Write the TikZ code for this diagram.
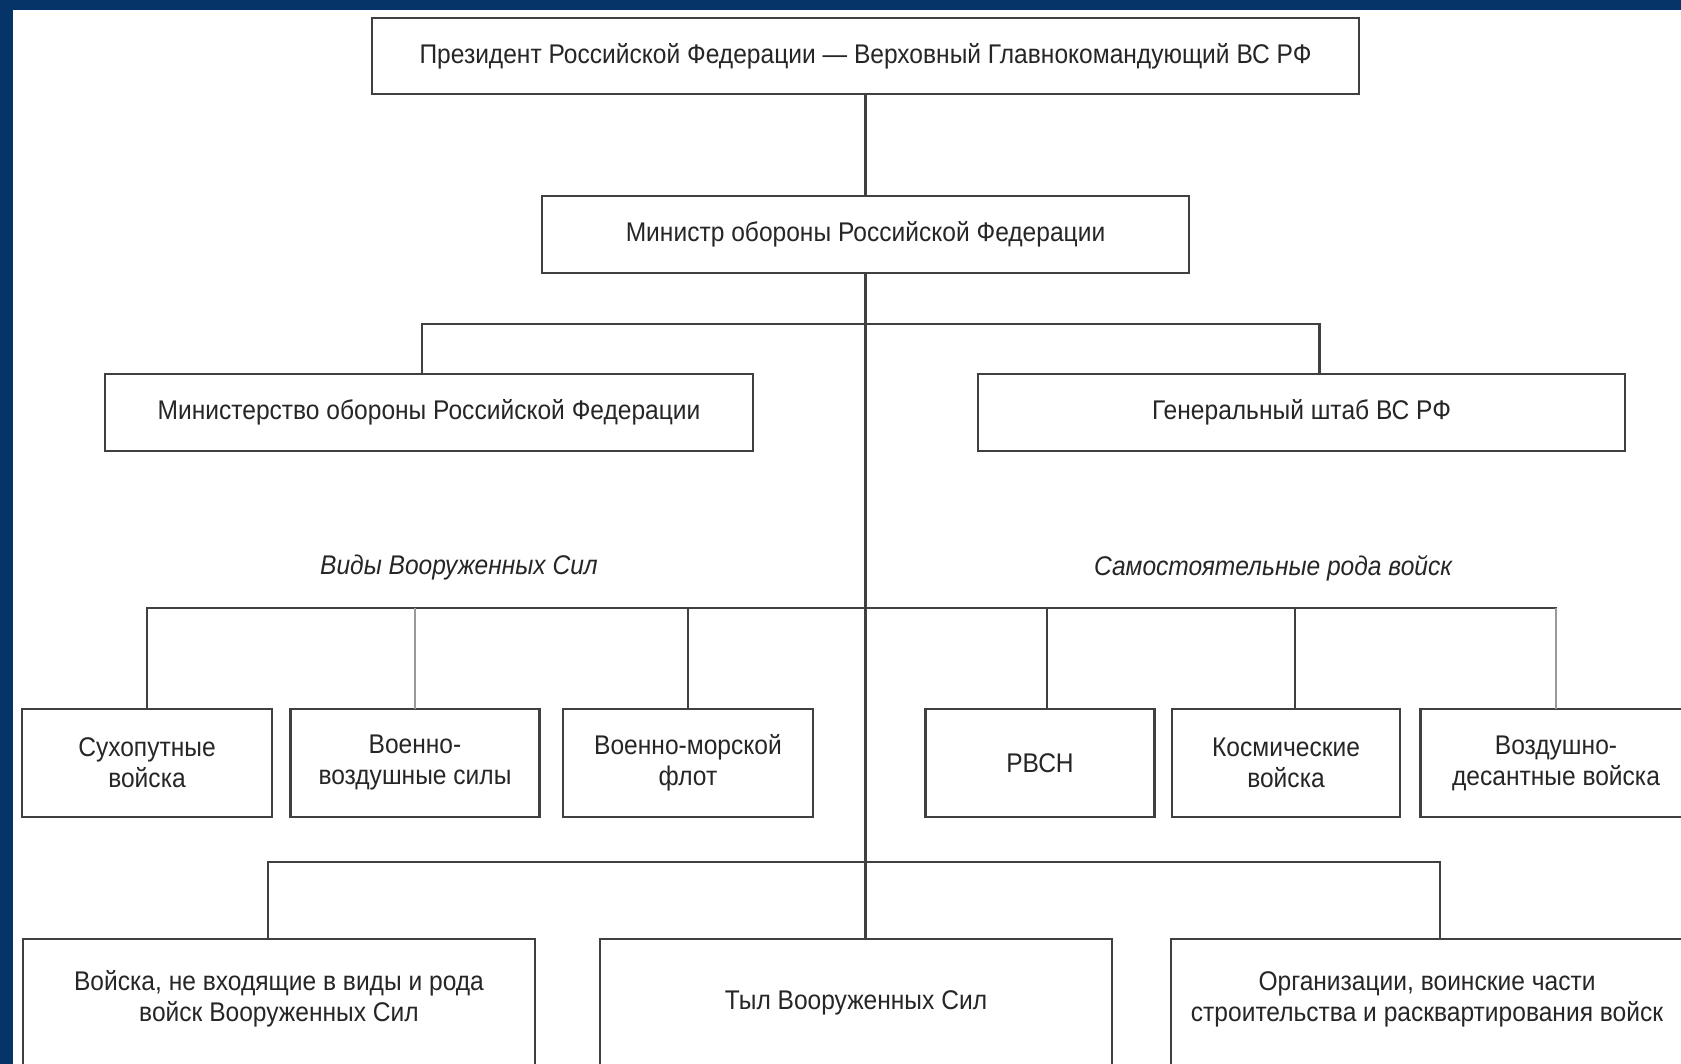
\documentclass[tikz,border=0pt]{standalone}
\usepackage{fontspec}
\setmainfont{Liberation Sans}[FakeStretch=0.91]
\definecolor{frameblue}{RGB}{6,52,104}
\begin{document}
\begin{tikzpicture}[x=1pt,y=-1pt,
  box/.style={draw=black!75, line width=2.8pt, fill=white, align=center, inner sep=0pt, outer sep=0pt,
    font=\fontsize{27}{31}\selectfont, text=black!85},
  txt/.style={align=center, inner sep=0pt, font=\fontsize{27}{31}\selectfont, text=black!85},
  link/.style={draw=black!75, line width=2.8pt},
  light/.style={draw=black!40, line width=1.4pt},
  lab/.style={inner sep=0pt, font=\fontsize{27}{31}\selectfont\itshape, text=black!85}]
\useasboundingbox (0,0) rectangle (1681,1064);
\clip (0,0) rectangle (1681,1064);
\fill[frameblue] (0,0) rectangle (1681,1064);
\fill[white] (13,10) rectangle (1681,1064);

% top levels
\node[box, minimum width=987, minimum height=76] (pres) at (865.5,56)
  {Президент Российской Федерации — Верховный Главнокомандующий ВС РФ};
\node[box, minimum width=647, minimum height=77] (mino) at (865.5,234.5)
  {Министр обороны Российской Федерации};
\node[box, minimum width=648, minimum height=77] (mod) at (429,412.5)
  {Министерство обороны Российской Федерации};
\node[box, minimum width=647, minimum height=77] (gs) at (1301.5,412.5)
  {Генеральный штаб ВС РФ};

% group labels
\node[lab] (vid) at (459,568) {Виды Вооруженных Сил};
\node[lab] (rod) at (1273,568) {Самостоятельные рода войск};

% branches row
\node[box, minimum width=250, minimum height=108] (b1) at (147,763) {Сухопутные\\войска};
\node[box, minimum width=249, minimum height=108] (b2) at (415,763) {Военно-\\воздушные силы};
\node[box, minimum width=250, minimum height=108] (b3) at (688,763) {Военно-морской\\флот};
\node[box, minimum width=229, minimum height=108] (b4) at (1040,763) {РВСН};
\node[box, minimum width=228, minimum height=108] (b5) at (1286,763) {Космические\\войска};
\node[box, minimum width=271, minimum height=108] (b6) at (1556,763) {Воздушно-\\десантные войска};

% bottom row (cut by the lower edge)
\node[box, minimum width=512, minimum height=160, anchor=north] (c1) at (279,939) {};
\node[box, minimum width=512, minimum height=160, anchor=north] (c2) at (856,939) {};
\node[box, minimum width=512, minimum height=160, anchor=north] (c3) at (1427,939) {};
\node[txt] (c1t) at ([yshift=-60]c1.north) {Войска, не входящие в виды и рода\\войск Вооруженных Сил};
\node[txt] (c2t) at ([yshift=-64]c2.north) {Тыл Вооруженных Сил};
\node[txt] (c3t) at ([yshift=-60]c3.north) {Организации, воинские части\\строительства и расквартирования войск};

% connectors
\coordinate (bus1) at (865.5,324);
\coordinate (bus2) at (865.5,608);
\coordinate (bus3) at (865.5,862);
\draw[link] (pres.south) -- (mino.north);
\draw[link] (mino.south) -- (mino.south |- c2.north);
\draw[link] ([xshift=-7pt]mod.north) |- (bus1) -| ([xshift=18pt]gs.north);
\draw[link] (b1.north) |- (bus2) -| ([xshift=9pt]b5.north);
\draw[link] (bus2) -| (b6.north);
\draw[light] (b2.north) -- (b2.north |- bus2);
\draw[light] (b6.north) -- (b6.north |- bus2);
\draw[link] (b3.north) -- (b3.north |- bus2);
\draw[link] ([xshift=7pt]b4.north) -- ([xshift=7pt]b4.north |- bus2);
\draw[link] ([xshift=-11pt]c1.north) |- (bus3) -| ([xshift=13pt]c3.north);
\end{tikzpicture}
\end{document}
